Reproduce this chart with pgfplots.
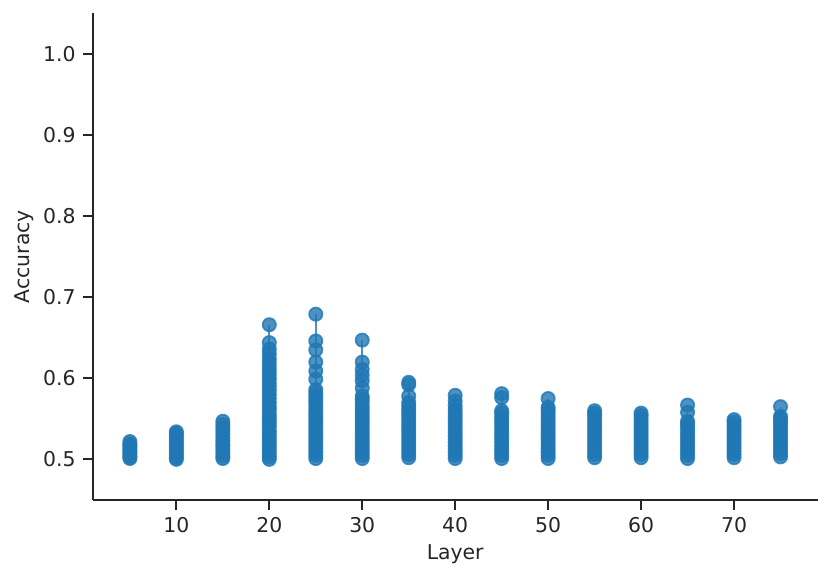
\documentclass[border=0pt]{standalone}
\usepackage{pgfplots}
\pgfplotsset{compat=1.18}
\usepackage{fontspec}
\setmainfont{DejaVu Sans}
\definecolor{tabblue}{RGB}{31,119,180}
\definecolor{txt}{RGB}{38,38,38}
\pgfplotsset{layerpts/.style={tabblue, draw opacity=0.8, line width=0.9pt, mark=*, mark size=3.3pt,
  mark options={draw=none, fill=tabblue, fill opacity=0.8}}}
\begin{document}
\begin{tikzpicture}
\begin{axis}[
 at={(0,0)}, anchor=south west, scale only axis,
 width=362.5pt, height=243.3pt,
 xmin=1, xmax=79, ymin=0.45, ymax=1.05,
 axis x line*=bottom, axis y line*=left,
 axis line style={txt, line width=1.1pt},
 xtick={10,20,...,70}, ytick={0.5,0.6,0.7,0.8,0.9,1.0},
 tick style={txt, line width=1.0pt},
 tick align=outside, major tick length=5pt,
 ticklabel style={font=\fontsize{10.2}{12}\selectfont, text=txt},
 /pgf/number format/assume math mode=true,
 yticklabel style={/pgf/number format/.cd, fixed, fixed zerofill, precision=1},
 xlabel={Layer}, ylabel={Accuracy},
 label style={font=\fontsize{10.2}{12}\selectfont, text=txt},
 xlabel style={at={(axis description cs:0.5,-0.112)}, anchor=center},
 ylabel style={at={(axis description cs:-0.0943,0.5)}, anchor=center},
]
\addplot[layerpts] coordinates {(5,0.501) (5,0.503) (5,0.505) (5,0.508) (5,0.510) (5,0.512) (5,0.515) (5,0.517) (5,0.519) (5,0.522)};
\addplot[layerpts] coordinates {(10,0.500) (10,0.502) (10,0.505) (10,0.508) (10,0.511) (10,0.514) (10,0.517) (10,0.520) (10,0.523) (10,0.526) (10,0.529) (10,0.532) (10,0.534)};
\addplot[layerpts] coordinates {(15,0.501) (15,0.504) (15,0.508) (15,0.512) (15,0.516) (15,0.519) (15,0.523) (15,0.527) (15,0.531) (15,0.535) (15,0.539) (15,0.543) (15,0.547)};
\addplot[layerpts] coordinates {(20,0.500) (20,0.503) (20,0.507) (20,0.511) (20,0.515) (20,0.519) (20,0.523) (20,0.527) (20,0.531) (20,0.535) (20,0.540) (20,0.544) (20,0.548) (20,0.552) (20,0.556) (20,0.561) (20,0.565) (20,0.570) (20,0.575) (20,0.580) (20,0.585) (20,0.590) (20,0.594) (20,0.599) (20,0.604) (20,0.609) (20,0.614) (20,0.619) (20,0.624) (20,0.630) (20,0.636) (20,0.644) (20,0.666)};
\addplot[layerpts] coordinates {(25,0.501) (25,0.505) (25,0.509) (25,0.513) (25,0.517) (25,0.521) (25,0.525) (25,0.529) (25,0.533) (25,0.537) (25,0.541) (25,0.545) (25,0.549) (25,0.553) (25,0.557) (25,0.561) (25,0.566) (25,0.570) (25,0.574) (25,0.578) (25,0.582) (25,0.586) (25,0.599) (25,0.609) (25,0.620) (25,0.635) (25,0.646) (25,0.679)};
\addplot[layerpts] coordinates {(30,0.501) (30,0.505) (30,0.509) (30,0.513) (30,0.517) (30,0.521) (30,0.525) (30,0.529) (30,0.533) (30,0.537) (30,0.541) (30,0.545) (30,0.549) (30,0.553) (30,0.557) (30,0.561) (30,0.565) (30,0.570) (30,0.574) (30,0.578) (30,0.588) (30,0.597) (30,0.604) (30,0.611) (30,0.620) (30,0.647)};
\addplot[layerpts] coordinates {(35,0.502) (35,0.506) (35,0.510) (35,0.514) (35,0.518) (35,0.522) (35,0.526) (35,0.530) (35,0.534) (35,0.538) (35,0.542) (35,0.546) (35,0.550) (35,0.554) (35,0.558) (35,0.562) (35,0.566) (35,0.570) (35,0.578) (35,0.592) (35,0.595)};
\addplot[layerpts] coordinates {(40,0.501) (40,0.505) (40,0.509) (40,0.513) (40,0.517) (40,0.521) (40,0.525) (40,0.529) (40,0.533) (40,0.537) (40,0.541) (40,0.545) (40,0.549) (40,0.553) (40,0.557) (40,0.561) (40,0.566) (40,0.572) (40,0.579)};
\addplot[layerpts] coordinates {(45,0.501) (45,0.505) (45,0.509) (45,0.513) (45,0.517) (45,0.521) (45,0.525) (45,0.529) (45,0.533) (45,0.537) (45,0.541) (45,0.545) (45,0.549) (45,0.553) (45,0.557) (45,0.560) (45,0.576) (45,0.581)};
\addplot[layerpts] coordinates {(50,0.501) (50,0.505) (50,0.509) (50,0.513) (50,0.517) (50,0.521) (50,0.525) (50,0.529) (50,0.533) (50,0.537) (50,0.541) (50,0.545) (50,0.549) (50,0.553) (50,0.557) (50,0.561) (50,0.564) (50,0.575)};
\addplot[layerpts] coordinates {(55,0.502) (55,0.506) (55,0.510) (55,0.514) (55,0.518) (55,0.522) (55,0.526) (55,0.530) (55,0.534) (55,0.538) (55,0.542) (55,0.546) (55,0.550) (55,0.554) (55,0.557) (55,0.560)};
\addplot[layerpts] coordinates {(60,0.502) (60,0.506) (60,0.510) (60,0.514) (60,0.518) (60,0.522) (60,0.526) (60,0.530) (60,0.534) (60,0.538) (60,0.542) (60,0.546) (60,0.550) (60,0.554) (60,0.557)};
\addplot[layerpts] coordinates {(65,0.501) (65,0.505) (65,0.509) (65,0.513) (65,0.517) (65,0.521) (65,0.525) (65,0.529) (65,0.533) (65,0.537) (65,0.541) (65,0.544) (65,0.547) (65,0.558) (65,0.567)};
\addplot[layerpts] coordinates {(70,0.502) (70,0.506) (70,0.510) (70,0.514) (70,0.518) (70,0.522) (70,0.526) (70,0.530) (70,0.534) (70,0.538) (70,0.542) (70,0.546) (70,0.549)};
\addplot[layerpts] coordinates {(75,0.503) (75,0.507) (75,0.511) (75,0.515) (75,0.519) (75,0.523) (75,0.527) (75,0.531) (75,0.535) (75,0.539) (75,0.543) (75,0.547) (75,0.550) (75,0.553) (75,0.565)};
\end{axis}
\pgfresetboundingbox
\useasboundingbox (-46.35pt,-40pt) rectangle (369.15pt,249.95pt);
\end{tikzpicture}
\end{document}
